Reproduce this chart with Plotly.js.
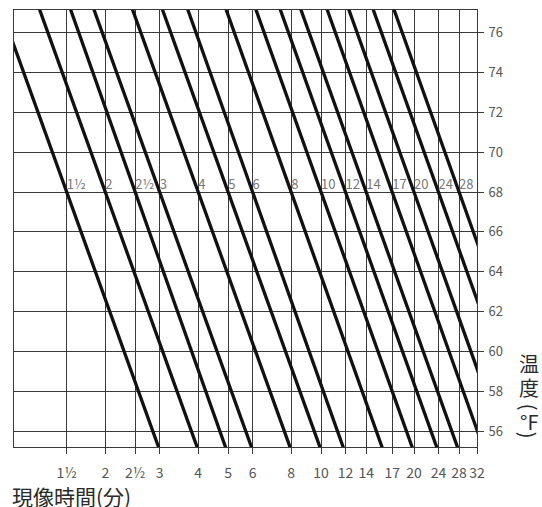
<!DOCTYPE html>
<html><head><meta charset="utf-8">
<script src="https://cdn.plot.ly/plotly-3.0.1.min.js"></script>
<style>html,body{margin:0;padding:0;background:#fff;} #chart{width:542px;height:507px;}</style>
</head><body><div id="chart"></div>
<script>
// Development time lines: time (minutes) at 68°F and read-off time at 56°F
const lineLabels = ["1½","2","2½","3","4","5","6","8","10","12","14","17","20","24","28"];
const timeAt68 = [1.5, 2, 2.5, 3, 4, 5, 6, 8, 10, 12, 14, 17, 20, 24, 28];
const timeAt56 = [2.85, 3.8, 4.7, 5.7, 7.6, 9.5, 11.3, 15.1, 18.9, 22.7, 26.5, 32.1, 37.8, 45.4, 52.9];

const xTickVals = [1.5, 2, 2.5, 3, 4, 5, 6, 8, 10, 12, 14, 17, 20, 24, 28, 32];
const xTickText = ["1½","2","2½","3","4","5","6","8","10","12","14","17","20","24","28","32"];
const yTickVals = [56, 58, 60, 62, 64, 66, 68, 70, 72, 74, 76];

const xTitle = "現像時間(分)";
const yTitleChars = ["温", "度", "(", "°F", ")"];

// each straight line (log time vs temperature) is extended past the frame and clipped by the axes
const tempEnds = [80, 52];
const traces = [];
timeAt68.forEach((t68, i) => {
  const l68 = Math.log10(t68), l56 = Math.log10(timeAt56[i]);
  const xs = tempEnds.map(T => Math.pow(10, l68 + (l56 - l68) * (68 - T) / 12));
  traces.push({
    type: 'scatter', mode: 'lines', x: xs, y: tempEnds,
    line: {color: '#111', width: 3.3}, hoverinfo: 'skip', showlegend: false
  });
});
traces.push({
  type: 'scatter', mode: 'text', x: timeAt68, y: timeAt68.map(() => 68),
  text: lineLabels, textposition: 'top right',
  textfont: {family: 'Noto Sans CJK JP, DejaVu Sans, sans-serif', size: 13, color: '#777'},
  hoverinfo: 'skip', showlegend: false
});

const gridC = '#3a3a3a';
const titleFont = {family: 'Noto Sans CJK JP, sans-serif', size: 20, color: '#2a2a2a'};
function vChar(text, y, angle) {
  return {text: text, xref: 'paper', yref: 'paper', x: 1.112, y: y,
          xanchor: 'center', yanchor: 'middle', showarrow: false,
          textangle: angle || 0, font: titleFont};
}
const layout = {
  width: 542, height: 507,
  margin: {l: 14, r: 65, t: 10, b: 60},
  paper_bgcolor: '#fff', plot_bgcolor: '#fff',
  font: {family: 'Noto Sans CJK JP, DejaVu Sans, sans-serif', color: '#555'},
  showlegend: false,
  xaxis: {
    type: 'log', range: [0.0053, 1.5051],
    tickvals: xTickVals, ticktext: xTickText, tickangle: 0,
    showgrid: true, gridcolor: gridC, gridwidth: 1,
    ticks: 'outside', ticklen: 6, tickcolor: gridC, tickwidth: 1,
    ticklabelstandoff: 7,
    showline: true, mirror: true, linecolor: gridC, linewidth: 1,
    zeroline: false, tickfont: {size: 14, color: '#555'}, fixedrange: true
  },
  yaxis: {
    side: 'right', range: [55.2, 77.14],
    tickvals: yTickVals,
    showgrid: true, gridcolor: gridC, gridwidth: 1,
    ticks: 'outside', ticklen: 6, tickcolor: gridC, tickwidth: 1,
    ticklabelstandoff: 2,
    showline: true, mirror: true, linecolor: gridC, linewidth: 1,
    zeroline: false, tickfont: {size: 13, color: '#555'}, fixedrange: true
  },
  annotations: [
    {text: xTitle, xref: 'paper', yref: 'paper', x: -0.008, y: -0.113,
     xanchor: 'left', yanchor: 'middle', showarrow: false,
     font: {family: 'Noto Sans CJK JP, sans-serif', size: 21, color: '#2a2a2a'}},
    vChar(yTitleChars[0], 0.190),
    vChar(yTitleChars[1], 0.136),
    vChar(yTitleChars[2], 0.090, 90),
    vChar(yTitleChars[3], 0.058),
    vChar(yTitleChars[4], 0.026, 90)
  ]
};
Plotly.newPlot('chart', traces, layout, {displayModeBar: false, staticPlot: true});
</script></body></html>
